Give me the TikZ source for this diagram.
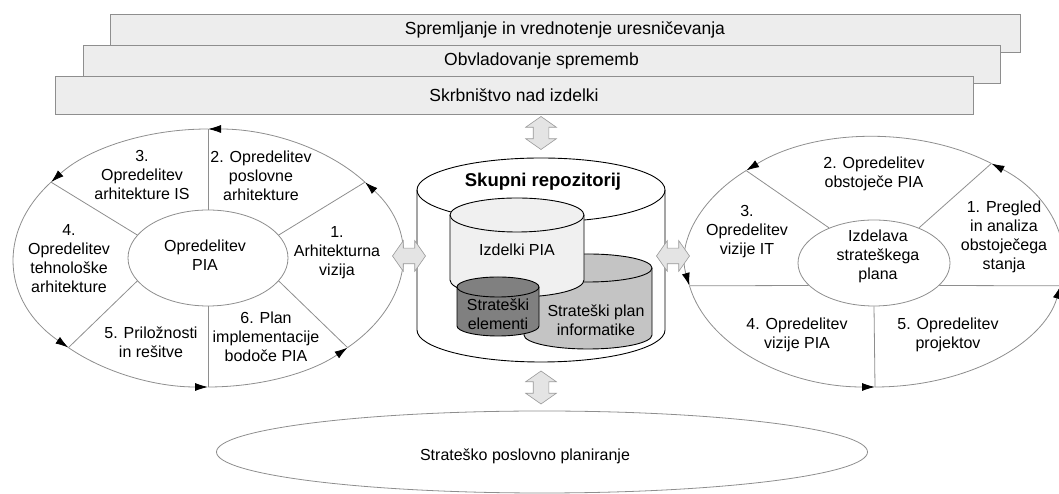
\documentclass[tikz,border=0pt]{standalone}
\usepackage{fontspec}
\setmainfont{Liberation Sans}
\usetikzlibrary{arrows.meta, shapes.geometric, shapes.arrows, calc}

\definecolor{linegray}{HTML}{8E8E8E}
\definecolor{barfill}{HTML}{EDEDED}
\definecolor{piafill}{HTML}{F0F0F0}
\definecolor{planfill}{HTML}{C4C4C4}
\definecolor{elemfill}{HTML}{808080}
\definecolor{hollow}{HTML}{E4E4E4}

% drum: x, top, bottom, x radius, y radius, fill
\newcommand{\drum}[6]{%
  \filldraw[fill=#6, line width=0.9pt] (#1-#4,#2) -- (#1-#4,#3)
    arc[start angle=180, end angle=360, x radius=#4pt, y radius=#5pt]
    -- (#1+#4,#2)
    arc[start angle=0, end angle=180, x radius=#4pt, y radius=#5pt] -- cycle;
  \draw[line width=0.9pt] (#1+#4,#2)
    arc[start angle=0, end angle=-180, x radius=#4pt, y radius=#5pt];
}

\begin{document}
\begin{tikzpicture}[
  x=1pt, y=1pt,
  lbl/.style={align=center, font=\fontsize{16}{19}\selectfont, inner sep=0pt},
  bar/.style={draw=linegray, fill=barfill, line width=0.8pt, inner sep=0pt, minimum height=38pt},
  bartext/.style={font=\fontsize{17.5}{20}\selectfont, inner sep=0pt},
  ring/.style={ellipse, draw=linegray, line width=0.8pt, inner sep=0pt},
  hub/.style={ellipse, draw=linegray, line width=0.8pt, fill=white, inner sep=0pt},
  spoke/.style={draw=linegray, line width=0.8pt},
  cyc/.style={draw=linegray, line width=0.8pt, -{Latex[length=13pt, width=8pt, color=black]}},
  link/.style={double arrow, draw=gray!80, fill=hollow, line width=0.6pt, inner sep=7.5pt,
    minimum height=33pt, double arrow head extend=7.5pt, double arrow tip angle=110}
]
\useasboundingbox (0,0) rectangle (1059,494);

% top bars
\node[bar, minimum width=910pt] (monitor) at (565,461) {};
\node[bar, minimum width=917pt] (change) at (541.5,430) {};
\node[bar, minimum width=918pt] (custody) at (514,399) {};
\node[bartext] (monitortxt) at ([yshift=3.5pt]monitor.center) {Spremljanje in vrednotenje uresničevanja};
\node[bartext] (changetxt) at ([yshift=3.5pt]change.center) {Obvladovanje sprememb};
\node[bartext] (custodytxt) at (custody.center) {Skrbništvo nad izdelki};

% left cycle
\coordinate (lc) at (208,236);
\foreach \t [count=\i] in {36,90,144,224,270,316}
  \coordinate (lo\i) at ($(lc)+(\t:194pt and 129pt)$);
\foreach \i/\s/\e in {1/36/90, 2/90/144, 3/144/224, 4/224/270, 5/270/316, 6/316/396}
  \draw[cyc] (lo\i) arc[start angle=\s, end angle=\e, x radius=194pt, y radius=129pt];
\node[hub, minimum width=160pt, minimum height=96pt] (lhub) at (lc) {};
\foreach \a/\i in {18/1, 90/2, 162/3, 198/4, 270/5, 342/6}
  \draw[spoke] (lhub.\a) -- (lo\i);
\node[lbl] (lhubtxt) at (205,239) {Opredelitev\\PIA};
\node[lbl] (arch) at (337,241) {1.\\Arhitekturna\\vizija};
\node[lbl] (biz) at (261,318) {2. Opredelitev\\poslovne\\arhitekture};
\node[lbl] (isarch) at (142,319) {3.\\Opredelitev\\arhitekture IS};
\node[lbl] (tech) at (69,235) {4.\\Opredelitev\\tehnološke\\arhitekture};
\node[lbl] (opp) at (151,152) {5. Priložnosti\\in rešitve};
\node[lbl] (impl) at (266,157) {6. Plan\\implementacije\\bodoče PIA};

% right cycle
\coordinate (rc) at (875,232);
\foreach \t [count=\i] in {349,52,133,191,270}
  \coordinate (ro\i) at ($(rc)+(\t:189pt and 125pt)$);
\foreach \i/\s/\e in {1/349/412, 2/52/133, 3/133/191, 4/191/270, 5/270/349}
  \draw[cyc] (ro\i) arc[start angle=\s, end angle=\e, x radius=189pt, y radius=125pt];
\node[hub, minimum width=152pt, minimum height=86pt] (rhub) at (874,231) {};
\foreach \a/\i in {341/1, 38/2, 142/3, 199/4, 270/5}
  \draw[spoke] (rhub.\a) -- (ro\i);
\node[lbl] (rhubtxt) at (878,238) {Izdelava\\strateškega\\plana};
\node[lbl] (review) at (1004,257) {1. Pregled\\in analiza\\obstoječega\\stanja};
\node[lbl] (current) at (874,320) {2. Opredelitev\\obstoječe PIA};
\node[lbl] (itvision) at (747,262) {3.\\Opredelitev\\vizije IT};
\node[lbl] (piavision) at (797,159) {4. Opredelitev\\vizije PIA};
\node[lbl] (projects) at (948,159) {5. Opredelitev\\projektov};

% repository
\drum{541}{304}{164}{124}{32}{white}
\node[font=\bfseries\fontsize{18.5}{22}\selectfont, inner sep=0pt] (repo) at (543,312) {Skupni repozitorij};
\drum{588}{226}{159}{64}{14}{planfill}
\drum{517}{279}{214}{67}{17}{piafill}
\drum{498}{207}{168}{41}{10}{elemfill}
\node[lbl] (izdelki) at (517,244) {Izdelki PIA};
\node[lbl] (elementi) at (498,180) {Strateški\\elementi};
\node[lbl] (splan) at (596,174) {Strateški plan\\informatike};

% business planning
\node[ring, minimum width=651pt, minimum height=82pt] (bizplan) at (542,42) {};
\node[lbl] (bizplantxt) at (525,38) {Strateško poslovno planiranje};

% links
\node[link, rotate=90] (uplink) at (541,361) {};
\node[link, rotate=90] (downlink) at (541,106.5) {};
\node[link] (leftlink) at (409,238) {};
\node[link] (rightlink) at (673,238) {};
\end{tikzpicture}
\end{document}
